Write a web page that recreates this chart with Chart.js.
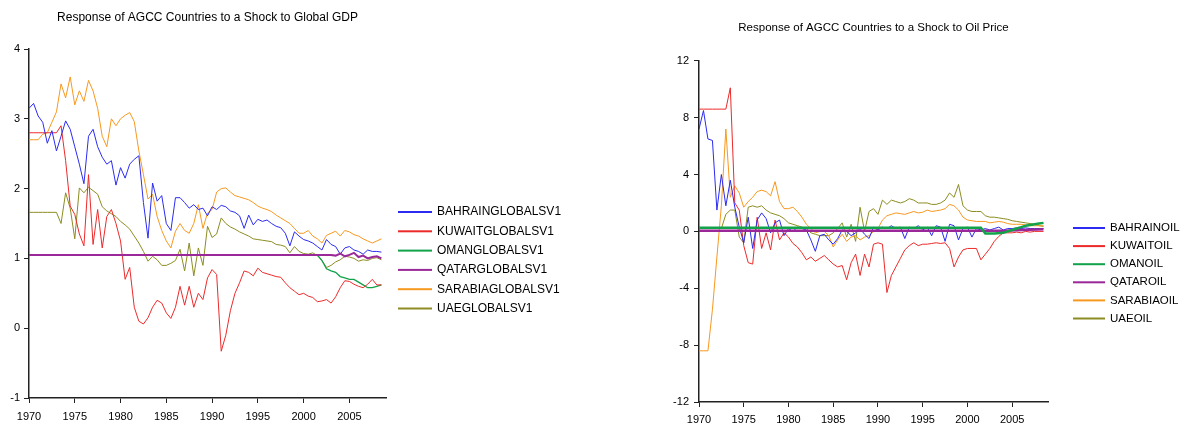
<!DOCTYPE html>
<html>
<head>
<meta charset="utf-8">
<script src="https://cdn.jsdelivr.net/npm/chart.js@4.4.1/dist/chart.umd.min.js"></script>
<style>
  html, body { margin: 0; padding: 0; background: #fff; }
  body { width: 1190px; height: 432px; position: relative; overflow: hidden; }
  .panel { position: absolute; top: 0; height: 432px; }
  #gdpPanel { left: 0; width: 590px; }
  #oilPanel { left: 640px; width: 550px; }
</style>
</head>
<body>
<div class="panel" id="gdpPanel"><canvas id="chartGdp"></canvas></div>
<div class="panel" id="oilPanel"><canvas id="chartOil"></canvas></div>
<script>
// half-year sample points, 1970 - 2008.5
const halfYears = [
  1970, 1970.5, 1971, 1971.5, 1972, 1972.5, 1973, 1973.5, 1974, 1974.5,
  1975, 1975.5, 1976, 1976.5, 1977, 1977.5, 1978, 1978.5, 1979, 1979.5,
  1980, 1980.5, 1981, 1981.5, 1982, 1982.5, 1983, 1983.5, 1984, 1984.5,
  1985, 1985.5, 1986, 1986.5, 1987, 1987.5, 1988, 1988.5, 1989, 1989.5,
  1990, 1990.5, 1991, 1991.5, 1992, 1992.5, 1993, 1993.5, 1994, 1994.5,
  1995, 1995.5, 1996, 1996.5, 1997, 1997.5, 1998, 1998.5, 1999, 1999.5,
  2000, 2000.5, 2001, 2001.5, 2002, 2002.5, 2003, 2003.5, 2004, 2004.5,
  2005, 2005.5, 2006, 2006.5, 2007, 2007.5, 2008, 2008.5
];

// ---- shock to global GDP ----
const bahrainGlobal = [
  3.15, 3.22, 3.04, 2.95, 2.65, 2.83, 2.54, 2.75, 2.97, 2.85,
  2.6, 2.35, 2.07, 2.75, 2.85, 2.6, 2.45, 2.35, 2.4, 2.05,
  2.3, 2.15, 2.35, 2.42, 2.47, 1.8, 1.29, 2.08, 1.82, 1.9,
  1.5, 1.4, 1.87, 1.87, 1.8, 1.72, 1.77, 1.7, 1.72, 1.61,
  1.74, 1.7, 1.76, 1.74, 1.68, 1.66, 1.61, 1.43, 1.62, 1.48,
  1.56, 1.53, 1.55, 1.5, 1.46, 1.44, 1.36, 1.18, 1.38, 1.32,
  1.27, 1.25, 1.22, 1.17, 1.12, 1.27, 1.2, 1.17, 1.06, 1.15,
  1.17, 1.12, 1.1, 1.06, 1.12, 1.1, 1.1, 1.09
];
const kuwaitGlobal = [
  2.8, 2.8, 2.8, 2.8, 2.8, 2.8, 2.8, 2.9, 2.4, 1.75,
  1.63, 1.35, 1.18, 2.2, 1.2, 1.7, 1.15, 1.6, 1.7, 1.5,
  1.25, 0.7, 0.87, 0.3, 0.1, 0.06, 0.15, 0.3, 0.4, 0.36,
  0.22, 0.14, 0.3, 0.6, 0.33, 0.6, 0.3, 0.5, 0.41, 0.72,
  0.84, 0.77, -0.33, -0.1, 0.25, 0.5, 0.65, 0.82, 0.8, 0.75,
  0.86, 0.8, 0.78, 0.76, 0.74, 0.73, 0.65, 0.58, 0.53, 0.48,
  0.5, 0.46, 0.44, 0.38, 0.39, 0.41, 0.36, 0.45, 0.58, 0.68,
  0.67, 0.63, 0.6, 0.58, 0.63, 0.7, 0.62, 0.62
];
const omanGlobalYears = [1970, 2001.5, 2002, 2002.5, 2003, 2003.5, 2004, 2004.5, 2005, 2005.5, 2006, 2006.5, 2007, 2007.5, 2008, 2008.5];
const omanGlobal = [1.05, 1.05, 0.97, 0.85, 0.82, 0.8, 0.74, 0.72, 0.7, 0.7, 0.66, 0.62, 0.58, 0.58, 0.6, 0.62];
const qatarGlobalYears = [1970, 2003, 2003.5, 2004, 2004.5, 2005, 2005.5, 2006, 2006.5, 2007, 2007.5, 2008, 2008.5];
const qatarGlobal = [1.05, 1.05, 1.04, 1.07, 1.03, 1.05, 1.08, 1.02, 1.04, 1.0, 1.02, 1.03, 1.0];
const sarabiaGlobal = [
  2.7, 2.7, 2.7, 2.78, 2.8, 2.95, 3.1, 3.5, 3.3, 3.6,
  3.2, 3.4, 3.25, 3.55, 3.4, 3.15, 2.75, 2.6, 3.0, 2.9,
  3.0, 3.05, 3.09, 2.96, 2.54, 2.2, 1.85, 1.92, 1.6, 1.4,
  1.25, 1.15, 1.39, 1.5, 1.4, 1.36, 1.5, 1.77, 1.43, 1.65,
  1.7, 1.95, 2.0, 2.01, 1.95, 1.9, 1.88, 1.86, 1.84, 1.8,
  1.75, 1.72, 1.7, 1.67, 1.62, 1.58, 1.54, 1.5, 1.43, 1.36,
  1.36, 1.4, 1.32, 1.28, 1.22, 1.33, 1.36, 1.39, 1.32, 1.4,
  1.38, 1.34, 1.32, 1.28, 1.25, 1.22, 1.25, 1.28
];
const uaeGlobal = [
  1.66, 1.66, 1.66, 1.66, 1.66, 1.66, 1.66, 1.5, 1.94, 1.72,
  1.28, 2.01, 1.94, 2.02, 1.97, 1.92, 1.74, 1.68, 1.64, 1.6,
  1.53, 1.48, 1.42, 1.32, 1.22, 1.1, 0.96, 1.03, 0.98, 0.9,
  0.9, 0.93, 0.97, 1.13, 0.82, 1.22, 0.75, 1.15, 0.9, 1.46,
  1.3, 1.35, 1.58, 1.5, 1.45, 1.42, 1.38, 1.35, 1.32, 1.28,
  1.27, 1.26, 1.25, 1.24, 1.2, 1.19, 1.17, 1.08, 1.17, 1.1,
  1.07, 1.06, 1.08, 1.04, 0.97, 0.87, 0.9, 0.95, 0.98, 1.03,
  1.02, 1.0, 0.96, 0.98, 0.97, 1.0, 1.01, 0.98
];

// ---- shock to oil price ----
const bahrainOil = [
  7.2, 8.5, 6.5, 6.4, 1.5, 4.0, 1.8, 3.6, 1.7, 0.3,
  -0.8, 1.0, -1.2, 0.8, 1.3, 0.9, -0.1, 0.6, 0.8, -0.3,
  0.2, 0.0, 0.3, 0.2, 0.1, -0.6, -1.4, -0.3, -0.2, -0.6,
  -0.9, -0.5, 0.1, 0.0, -0.3, -0.1, 0.2, -0.2, -0.5, 0.3,
  0.1, 0.3, 0.2, 0.4, 0.2, 0.3, -0.5, 0.3, 0.2, 0.4,
  0.1, 0.3, -0.3, 0.4, 0.3, -0.7, 0.5, 0.4, -0.6, 0.2,
  0.3, -0.4, 0.2, 0.1, 0.2, 0.1, 0.2, 0.3, 0.1, 0.2,
  0.2, 0.25, 0.2, 0.25, 0.2, 0.2, 0.2, 0.2
];
const kuwaitOil = [
  8.6, 8.6, 8.6, 8.6, 8.6, 8.6, 8.6, 10.1, 2.0, 1.5,
  -1.0, -2.2, -2.3, 1.0, -1.2, -0.1, -1.3, 0.8, -0.6, -0.1,
  -0.4, -0.85, -1.1, -1.5, -2.0, -1.8, -2.1, -1.9, -1.7, -2.0,
  -2.3, -2.5, -2.4, -3.4, -2.2, -1.6, -3.1, -1.6, -2.5, -0.9,
  -0.8, -0.9, -4.3, -3.1, -2.5, -1.9, -1.3, -1.0, -0.8, -1.0,
  -0.9, -0.9, -0.85, -0.8, -0.85, -0.8, -1.2, -2.5, -1.8, -1.3,
  -1.2, -1.2, -1.2, -2.0, -1.6, -1.2, -0.7, -0.35, -0.1, -0.1,
  -0.1, -0.05, -0.1, 0.0, -0.05, 0.0, 0.0, 0.0
];
const omanOilYears = [1970, 2001.5, 2002, 2003, 2004, 2004.5, 2005, 2005.5, 2006, 2006.5, 2007, 2007.5, 2008, 2008.5];
const omanOil = [0.25, 0.25, -0.15, -0.15, -0.1, 0.0, 0.1, 0.2, 0.3, 0.4, 0.45, 0.5, 0.55, 0.6];
const qatarOilYears = [1970, 2004, 2008.5];
const qatarOil = [0.05, 0.05, 0.15];
const sarabiaOil = [
  -8.4, -8.4, -8.4, -5.5, -1.8, 1.8, 7.2, 2.4, 3.2, 2.7,
  1.7, 2.1, 2.4, 2.8, 2.9, 2.8, 2.5, 3.5, 2.1, 1.6,
  1.6, 1.7, 1.4, 1.0, 0.5, 0.2, -0.1, 0.0, 0.0, -0.3,
  -1.1, -0.6, -0.2, -0.7, -0.4, -0.3, -0.6, -0.4, -0.3, 0.0,
  0.2, 0.8, 1.1, 1.2, 1.3, 1.25, 1.2, 1.3, 1.4, 1.3,
  1.35, 1.5, 1.4, 1.45, 1.5, 1.6, 1.9, 1.8, 1.5, 1.0,
  0.8, 0.75, 0.7, 0.7, 0.7, 0.6, 0.65, 0.7, 0.65, 0.55,
  0.5, 0.5, 0.5, 0.45, 0.4, 0.4, 0.4, 0.4
];
const uaeOil = [
  0.2, 0.2, 0.2, 0.2, 0.2, 0.2, 1.2, 1.5, 1.5, -0.4,
  -0.8, 1.7, 1.8, 1.7, 1.8, 1.5, 1.3, 1.2, 1.1, 0.9,
  0.6, 0.5, 0.4, 0.3, 0.2, -0.1, -0.2, -0.3, -0.3, -0.3,
  -0.1, 0.2, 0.6, -0.4, 0.5, -0.7, 1.7, 0.0, 1.4, 1.6,
  1.2, 2.2, 1.9, 2.2, 2.1, 2.0, 2.1, 2.3, 2.2, 2.0,
  2.0, 2.0, 1.9, 1.9, 2.0, 2.2, 2.7, 2.4, 3.3, 1.8,
  1.5, 1.4, 1.4, 1.4, 1.1, 1.0, 1.0, 0.95, 0.9, 0.85,
  0.75, 0.7, 0.65, 0.6, 0.55, 0.5, 0.4, 0.35
];

const gdpTicks = [-1, 0, 1, 2, 3, 4];
const oilTicks = [-12, -8, -4, 0, 4, 8, 12];

const colors = {
  bahrain: "#2b2bf2",
  kuwait: "#ec2a2a",
  oman: "#12a24a",
  qatar: "#9a2898",
  sarabia: "#f7981f",
  uae: "#8c8c22",
};

const fontFamily = "'Liberation Sans', Arial, sans-serif";

const pts = (xs, ys) => ys.map((y, i) => ({ x: xs[i], y: y }));

function line(label, data, color, width, order) {
  return {
    label: label,
    data: data,
    borderColor: color,
    backgroundColor: color,
    borderWidth: width || 1,
    pointRadius: 0,
    tension: 0,
    order: order || 0,
  };
}

// legend drawn beside the plot, lines + labels
const sideLegend = {
  id: "sideLegend",
  afterDraw(chart, args, o) {
    const ctx = chart.ctx;
    ctx.save();
    ctx.font = o.font;
    ctx.textBaseline = "middle";
    chart.data.datasets.forEach((ds, i) => {
      const y = o.y + i * o.gap;
      ctx.fillStyle = ds.borderColor;
      ctx.fillRect(o.x, y - 1, o.len, 2);
      ctx.fillStyle = "#000";
      ctx.fillText(ds.label, o.x + o.len + o.textGap, y);
    });
    ctx.restore();
  },
};

function axisStyle() {
  return {
    grid: { drawOnChartArea: false, drawTicks: true, tickLength: 5, color: "#222" },
    border: { color: "#222", width: 1.5 },
  };
}

function makeConfig(datasets, c) {
  return {
    type: "line",
    data: { datasets: datasets },
    plugins: [sideLegend],
    options: {
      responsive: true,
      maintainAspectRatio: false,
      animation: false,
      layout: { padding: { left: 0, top: 0, bottom: 0, right: c.padRight } },
      plugins: {
        legend: { display: false },
        tooltip: { enabled: false },
        title: {
          display: true,
          text: c.title,
          fullSize: false,
          color: "#000",
          font: { family: fontFamily, size: c.titleSize, weight: "normal" },
          padding: { top: c.titleTop, bottom: c.titleBottom },
        },
        sideLegend: c.legend,
      },
      scales: {
        x: {
          type: "linear",
          min: 1970,
          max: 2009,
          ...axisStyle(),
          ticks: {
            stepSize: 5,
            includeBounds: false,
            autoSkip: false,
            maxRotation: 0,
            padding: c.xPad,
            color: "#000",
            font: { family: fontFamily, size: 11 },
            callback: (v) => String(v),
          },
          afterFit: (s) => { s.height = c.xHeight; },
        },
        y: {
          min: c.yTicks[0],
          max: c.yTicks[c.yTicks.length - 1],
          ...axisStyle(),
          afterBuildTicks: (s) => { s.ticks = c.yTicks.map((v) => ({ value: v })); },
          ticks: {
            padding: c.yPad,
            color: "#000",
            font: { family: fontFamily, size: 11 },
            callback: (v) => String(v),
          },
          afterFit: (s) => { s.width = c.yWidth; },
        },
      },
    },
  };
}

const gdpDatasets = [
  line("BAHRAINGLOBALSV1", pts(halfYears, bahrainGlobal), colors.bahrain),
  line("KUWAITGLOBALSV1", pts(halfYears, kuwaitGlobal), colors.kuwait),
  line("OMANGLOBALSV1", pts(omanGlobalYears, omanGlobal), colors.oman, 1.3),
  line("QATARGLOBALSV1", pts(qatarGlobalYears, qatarGlobal), colors.qatar, 2, -1),
  line("SARABIAGLOBALSV1", pts(halfYears, sarabiaGlobal), colors.sarabia),
  line("UAEGLOBALSV1", pts(halfYears, uaeGlobal), colors.uae),
];

const oilDatasets = [
  line("BAHRAINOIL", pts(halfYears, bahrainOil), colors.bahrain),
  line("KUWAITOIL", pts(halfYears, kuwaitOil), colors.kuwait),
  line("OMANOIL", pts(omanOilYears, omanOil), colors.oman, 2.5, -2),
  line("QATAROIL", pts(qatarOilYears, qatarOil), colors.qatar, 2.5, -1),
  line("SARABIAOIL", pts(halfYears, sarabiaOil), colors.sarabia),
  line("UAEOIL", pts(halfYears, uaeOil), colors.uae),
];

const chartGdp = new Chart(document.getElementById("chartGdp"), makeConfig(gdpDatasets, {
  title: "Response of AGCC Countries to a Shock to Global GDP",
  titleSize: 12,
  titleTop: 10.5,
  titleBottom: 24.1,
  padRight: 204,
  yWidth: 29,
  xHeight: 34,
  xPad: 7,
  yPad: 4,
  yTicks: gdpTicks,
  legend: { x: 398, y: 212, gap: 19.3, len: 34, textGap: 5, font: "12px " + fontFamily },
}));

const chartOil = new Chart(document.getElementById("chartOil"), makeConfig(oilDatasets, {
  title: "Response of AGCC Countries to a Shock to Oil Price",
  titleSize: 11.5,
  titleTop: 21,
  titleBottom: 26,
  padRight: 142,
  yWidth: 59,
  xHeight: 30,
  xPad: 6,
  yPad: 5,
  yTicks: oilTicks,
  legend: { x: 433, y: 228, gap: 18.1, len: 32, textGap: 5, font: "11.5px " + fontFamily },
}));
</script>
</body>
</html>
